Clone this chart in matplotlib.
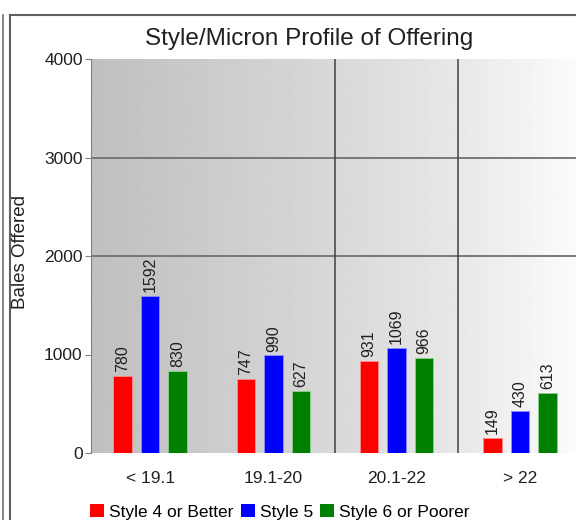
import numpy as np
import matplotlib.pyplot as plt
from matplotlib.patches import Patch
from matplotlib.lines import Line2D

plt.rcParams['font.family'] = ['Liberation Sans', 'DejaVu Sans']

categories = ['< 19.1', '19.1-20', '20.1-22', '> 22']
series_names = ['Style 4 or Better', 'Style 5', 'Style 6 or Poorer']
style4 = [780, 747, 931, 149]
style5 = [1592, 990, 1069, 430]
style6 = [830, 627, 966, 613]
yticks = [0, 1000, 2000, 3000, 4000]

colors = ['#ff0000', '#0000ff', '#008000']
edges = ['#ff9090', '#9090ff', '#90d090']

fig = plt.figure(figsize=(5.76, 5.2), dpi=100)
W, H = 576, 520
ax = fig.add_axes([91 / W, 1 - 453 / H, 493 / W, 394 / H])

xlim = (-0.48, 3.52)
ax.set_xlim(*xlim)
ax.set_ylim(0, 4000)

# background gradient, dark grey on the left fading to white
t = np.linspace(0, 1, 400)
g = np.interp(t, [0, 0.5, 0.75, 1.0], [0.75, 0.85, 0.91, 0.99])
ax.imshow(np.tile(g, (2, 1)), cmap='gray', vmin=0, vmax=1, aspect='auto',
          extent=[xlim[0], xlim[1], 0, 4000], zorder=0, interpolation='bilinear')

for y in [2000, 3000]:
    ax.axhline(y, color='#707070', lw=1.3, zorder=1)
for x in [1.5, 2.5]:
    ax.axvline(x, color='#404040', lw=1.1, zorder=1)

x = np.arange(len(categories))
w = 0.15
off = 0.223
for i, vals in enumerate([style4, style5, style6]):
    xs = x + (i - 1) * off
    ax.bar(xs, vals, width=w, color=colors[i], edgecolor=edges[i], lw=0.6, zorder=2)
    for xi, v in zip(xs, vals):
        ax.text(xi, v + 40, str(v), rotation=90, ha='center', va='bottom',
                fontsize=11.5, color='#202020', zorder=3)

for s in ['top', 'right', 'bottom']:
    ax.spines[s].set_visible(False)
ax.spines['left'].set_color('#808080')
ax.set_yticks(yticks)
ax.set_yticklabels([str(v) for v in yticks], fontsize=12.5, color='#202020')
ax.tick_params(axis='y', length=4, color='#808080', pad=2)
ax.set_xticks(x)
ax.set_xticklabels(categories, fontsize=12.5, color='#202020')
ax.tick_params(axis='x', length=0, pad=13)

fig.text(21 / W, 1 - 252 / H, 'Bales Offered', rotation=90, ha='center', va='center',
         fontsize=13.5, color='#202020')
fig.text(309 / W, 1 - 39 / H, 'Style/Micron Profile of Offering', ha='center', va='center',
         fontsize=17.5, color='#202020')

handles = [Patch(facecolor=c, edgecolor='none') for c in colors]
fig.legend(handles, series_names, loc='center', bbox_to_anchor=(280 / W, 1 - 512 / H),
           ncol=3, frameon=False, fontsize=12.5, handlelength=0.8, handleheight=0.8,
           handletextpad=0.3, columnspacing=0.4, borderpad=0)

# frame lines around the panel
fig.add_artist(Line2D([3 / W, 3 / W], [0, 1 - 15 / H], transform=fig.transFigure, color='#707070', lw=1.2))
fig.add_artist(Line2D([10 / W, 10 / W], [0, 1 - 15 / H], transform=fig.transFigure, color='#606060', lw=1.5))
fig.add_artist(Line2D([10 / W, 1], [1 - 15 / H, 1 - 15 / H], transform=fig.transFigure, color='#606060', lw=1.5))

fig.savefig('out.png', dpi=100)
